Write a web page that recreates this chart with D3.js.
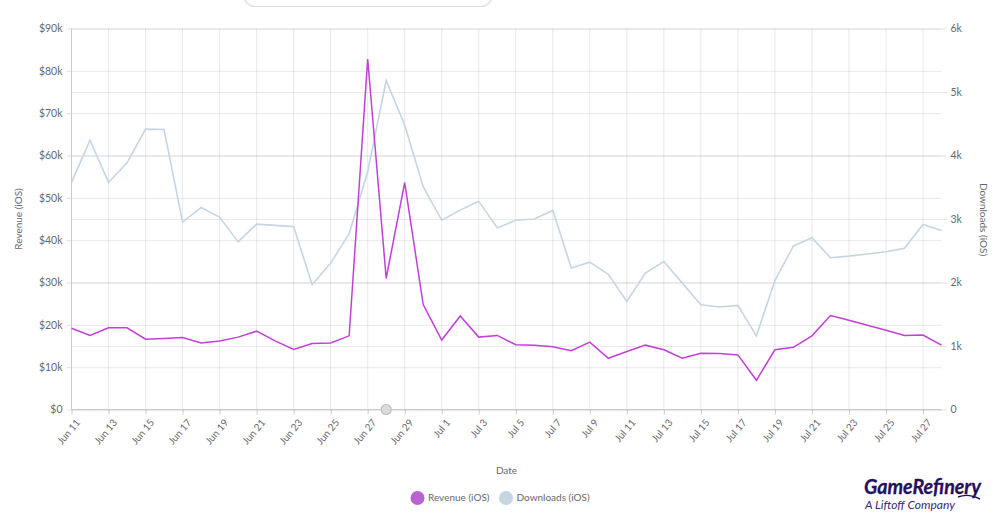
<!DOCTYPE html>
<html>
<head>
<meta charset="utf-8">
<script src="https://cdn.jsdelivr.net/npm/d3@7"></script>
<style>
  html, body { margin: 0; padding: 0; background: #fff; overflow: hidden; }
  text { font-family: Lato, "Open Sans", sans-serif; fill: #68686c; }
  .domain { display: none; }
</style>
</head>
<body>
<script>
const w = 1000;
const h = 526;
const margin = { top: 28.5, right: 58.5, bottom: 116.5, left: 71.5 };

const revenue = [19.2, 17.5, 19.3, 19.3, 16.6, 16.8, 17.0, 15.7, 16.2, 17.1, 18.5, 16.2, 14.2, 15.6, 15.7, 17.4,
  82.8, 31.0, 53.6, 24.8, 16.4, 22.1, 17.1, 17.5, 15.3, 15.2, 14.8, 13.9, 15.9, 12.1, 13.7, 15.2,
  14.1, 12.1, 13.3, 13.2, 12.9, 6.9, 14.1, 14.7, 17.4, 22.2, 21.1, 19.9, 18.7, 17.5, 17.6, 15.2];

const downloads = [3.576, 4.24, 3.576, 3.885, 4.415, 4.41, 2.95, 3.18, 3.03, 2.64, 2.92, 2.90, 2.88, 1.965, 2.306, 2.77,
  3.74, 5.18, 4.48, 3.51, 2.98, 3.14, 3.28, 2.86, 2.98, 3.0, 3.135, 2.23, 2.32, 2.13, 1.70, 2.15,
  2.33, 1.99, 1.65, 1.615, 1.64, 1.16, 2.03, 2.575, 2.705, 2.39, 2.415, 2.45, 2.485, 2.54, 2.915, 2.82];

const data = revenue.map((r, i) => ({
  date: new Date(Date.UTC(2022, 5, 11 + i)),
  revenue: r * 1000,
  downloads: downloads[i] * 1000
}));

const svg = d3.select("body")
              .append("svg")
              .attr("width", w)
              .attr("height", h)
              .style("display", "block");

const xScale = d3.scaleUtc()
                 .domain(d3.extent(data, (d) => d.date))
                 .range([margin.left, w - margin.right]);

const yLeft = d3.scaleLinear()
                .domain([0, 90000])
                .range([h - margin.bottom, margin.top]);

const yRight = d3.scaleLinear()
                 .domain([0, 6000])
                 .range([h - margin.bottom, margin.top]);

const tickDates = data.filter((d, i) => i % 2 === 0).map((d) => d.date);

// see-through so the lines get darker where the two axes meet
const gridColor = "rgba(40, 40, 50, 0.1)";

svg.append("g")
   .selectAll("line")
   .data(tickDates)
   .enter()
   .append("line")
   .attr("x1", (d) => xScale(d))
   .attr("x2", (d) => xScale(d))
   .attr("y1", margin.top)
   .attr("y2", h - margin.bottom)
   .attr("stroke", gridColor);

const xAxis = d3.axisBottom(xScale)
                .tickValues(tickDates)
                .tickFormat(d3.utcFormat("%b %-d"))
                .tickSize(5)
                .tickPadding(4);

const xG = svg.append("g")
              .attr("transform", "translate(0, " + (h - margin.bottom) + ")")
              .call(xAxis);

xG.selectAll("line").attr("stroke", "#c9cad1");
xG.selectAll("text")
  .attr("transform", "translate(0, 2) rotate(-50)")
  .attr("text-anchor", "end")
  .attr("dx", "-0.3em")
  .attr("dy", "0.5em")
  .style("font-size", "10px");

const leftAxis = d3.axisLeft(yLeft)
                   .tickValues(d3.range(0, 90001, 10000))
                   .tickFormat((v) => "$" + v / 1000 + (v ? "k" : ""))
                   .tickSize(5)
                   .tickPadding(4);

const leftG = svg.append("g")
                 .attr("transform", "translate(" + margin.left + ", 0)")
                 .call(leftAxis);

leftG.selectAll("text").style("font-size", "10.5px");

const rightAxis = d3.axisRight(yRight)
                    .tickValues(d3.range(0, 6001, 1000))
                    .tickFormat((v) => (v ? v / 1000 + "k" : "0"))
                    .tickSize(5)
                    .tickPadding(4);

const rightG = svg.append("g")
                  .attr("transform", "translate(" + (w - margin.right) + ", 0)")
                  .call(rightAxis);

rightG.selectAll("text").style("font-size", "10.5px");

[leftG, rightG].forEach((g) => {
  g.selectAll("line").attr("stroke", "#dfe0e4");
});

// horizontal grid
const plotW = w - margin.left - margin.right;
leftG.selectAll(".tick")
     .append("line")
     .attr("x1", 0)
     .attr("x2", plotW)
     .attr("stroke", gridColor);

rightG.selectAll(".tick")
      .append("line")
      .attr("x1", 0)
      .attr("x2", -plotW)
      .attr("stroke", gridColor);

// frame lines
svg.append("line")
   .attr("x1", margin.left)
   .attr("x2", margin.left)
   .attr("y1", margin.top)
   .attr("y2", h - margin.bottom)
   .attr("stroke", "#c9cad1");

svg.append("line")
   .attr("x1", margin.left)
   .attr("x2", w - margin.right)
   .attr("y1", h - margin.bottom)
   .attr("y2", h - margin.bottom)
   .attr("stroke", "#c9cad1");

// series
const downloadsLine = d3.line()
                        .x((d) => xScale(d.date))
                        .y((d) => yRight(d.downloads));

const revenueLine = d3.line()
                      .x((d) => xScale(d.date))
                      .y((d) => yLeft(d.revenue));

svg.append("path")
   .datum(data)
   .attr("d", downloadsLine)
   .attr("fill", "none")
   .attr("stroke", "#c5d6e3")
   .attr("stroke-width", 1.6);

svg.append("path")
   .datum(data)
   .attr("d", revenueLine)
   .attr("fill", "none")
   .attr("stroke", "#c23fd8")
   .attr("stroke-width", 1.5);

// range handle on the axis
svg.append("circle")
   .attr("cx", xScale(data[17].date))
   .attr("cy", h - margin.bottom)
   .attr("r", 5)
   .attr("fill", "#dcdcdc")
   .attr("stroke", "#bdbdbd")
   .attr("stroke-width", 1.2);

// box cut off at the top of the page
svg.append("rect")
   .attr("x", 243.5)
   .attr("y", -30)
   .attr("width", 249)
   .attr("height", 36.5)
   .attr("rx", 12)
   .attr("fill", "none")
   .attr("stroke", "#d9dbe0")
   .attr("stroke-width", 1.2);

// titles
svg.append("text")
   .attr("transform", "translate(22, 219) rotate(-90)")
   .attr("text-anchor", "middle")
   .style("font-size", "10px")
   .text("Revenue (iOS)");

svg.append("text")
   .attr("transform", "translate(979.5, 219.5) rotate(90)")
   .attr("text-anchor", "middle")
   .style("font-size", "10px")
   .text("Downloads (iOS)");

svg.append("text")
   .attr("x", 506.5)
   .attr("y", 474)
   .attr("text-anchor", "middle")
   .style("font-size", "10px")
   .text("Date");

// legend
const legend = [
  { label: "Revenue (iOS)", color: "#b963d0", cx: 417.5 },
  { label: "Downloads (iOS)", color: "#c5d5e2", cx: 506 }
];

const legendG = svg.selectAll(".legendItem")
                   .data(legend)
                   .enter()
                   .append("g")
                   .attr("class", "legendItem");

legendG.append("circle")
       .attr("cx", (d) => d.cx)
       .attr("cy", 498)
       .attr("r", 7)
       .attr("fill", (d) => d.color);

legendG.append("text")
       .attr("x", (d) => d.cx + 10.5)
       .attr("y", 501)
       .style("font-size", "10px")
       .text((d) => d.label);

// logo
svg.append("text")
   .attr("x", 864)
   .attr("y", 494)
   .style("font-size", "21px")
   .style("font-weight", "700")
   .style("font-style", "italic")
   .style("fill", "#24105c")
   .style("stroke", "#24105c")
   .style("stroke-width", 0.3)
   .attr("textLength", 117)
   .attr("lengthAdjust", "spacingAndGlyphs")
   .text("GameRefinery");

svg.append("path")
   .attr("d", "M958 497 Q968 493 980 499")
   .attr("fill", "none")
   .attr("stroke", "#24105c")
   .attr("stroke-width", 1.4);

svg.append("text")
   .attr("x", 865)
   .attr("y", 509)
   .style("font-size", "11px")
   .style("font-style", "italic")
   .style("fill", "#3a2a72")
   .attr("textLength", 90)
   .attr("lengthAdjust", "spacingAndGlyphs")
   .text("A Liftoff Company");
</script>
</body>
</html>
